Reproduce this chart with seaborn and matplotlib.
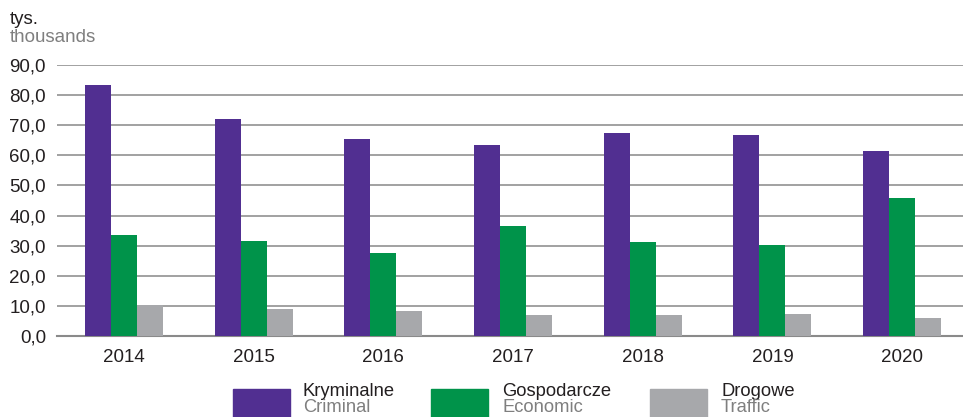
import matplotlib
matplotlib.use("Agg")
import matplotlib.pyplot as plt
import seaborn as sns
import pandas as pd
from matplotlib.patches import Rectangle

years = ["2014", "2015", "2016", "2017", "2018", "2019", "2020"]
criminal = [83.4, 72.1, 65.5, 63.5, 67.5, 66.8, 61.5]
economic = [33.6, 31.6, 27.6, 36.6, 31.3, 30.3, 45.9]
traffic = [10.3, 9.0, 8.3, 7.0, 7.0, 7.3, 6.0]
series_pl = ["Kryminalne", "Gospodarcze", "Drogowe"]
series_en = ["Criminal", "Economic", "Traffic"]
colors = ["#512F91", "#00934A", "#A7A8AB"]
yticks = [0, 10, 20, 30, 40, 50, 60, 70, 80, 90]

df = pd.DataFrame({
    "year": years * 3,
    "value": criminal + economic + traffic,
    "series": [series_pl[0]] * 7 + [series_pl[1]] * 7 + [series_pl[2]] * 7,
})

sns.set_theme(style="white")
plt.rcParams["font.family"] = ["Liberation Sans", "DejaVu Sans"]

FS = 13.5
LFS = 13.2
fig = plt.figure(figsize=(9.63, 4.17), dpi=100)
ax = fig.add_axes([57 / 963, 1 - 336 / 417, 1 - 57 / 963, (336 - 65) / 417])

sns.barplot(data=df, x="year", y="value", hue="series", hue_order=series_pl,
            palette=colors, width=0.6, gap=0, saturation=1, legend=False,
            errorbar=None, ax=ax, zorder=3, linewidth=0)

ax.set_ylim(0, 90)
ax.set_xlim(-0.517, 6.47)
ax.set_yticks(yticks)
ax.set_yticklabels([f"{v:.1f}".replace(".", ",") for v in yticks])
ax.yaxis.grid(True, color="#9a9a9a", linewidth=1.3, zorder=0)
ax.set_axisbelow(True)
for s in ["top", "right", "left"]:
    ax.spines[s].set_visible(False)
ax.spines["bottom"].set_color("#8a8a8a")
ax.spines["bottom"].set_linewidth(1.5)
ax.set_xlabel("")
ax.set_ylabel("")
ax.tick_params(axis="both", length=0, labelsize=FS, colors="#231f20", pad=8)
ax.tick_params(axis="x", pad=9)

fig.text(10 / 963, 1 - 20 / 417, "tys.", fontsize=FS, color="#231f20", va="center")
fig.text(10 / 963, 1 - 38 / 417, "thousands", fontsize=FS, color="#7f7f7f", va="center")

patch_x = [233, 431, 650]
text_x = [303, 502, 721]
for px, tx, c, pl, en in zip(patch_x, text_x, colors, series_pl, series_en):
    fig.patches.append(Rectangle((px / 963, 1 - 417 / 417), 57 / 963, 28 / 417,
                                 transform=fig.transFigure, color=c, zorder=5))
    fig.text(tx / 963, 1 - 396 / 417, pl, fontsize=LFS, color="#231f20", va="baseline")
    fig.text(tx / 963, 1 - 412 / 417, en, fontsize=LFS, color="#7f7f7f", va="baseline")

fig.savefig("out.png", dpi=100)
